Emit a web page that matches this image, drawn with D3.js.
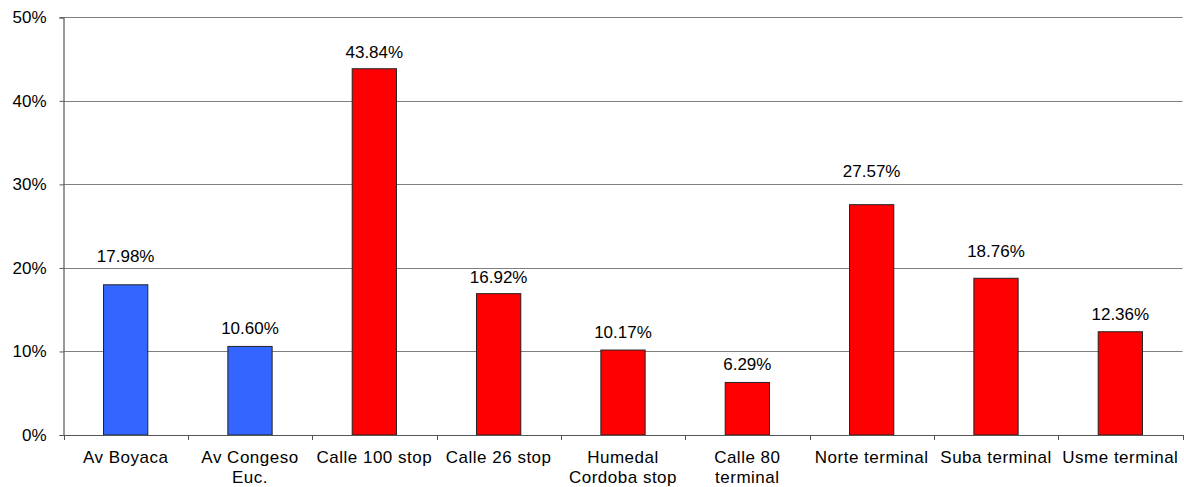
<!DOCTYPE html>
<html>
<head>
<meta charset="utf-8">
<script src="https://cdn.jsdelivr.net/npm/d3@7"></script>
<style>
  html, body { margin: 0; padding: 0; background: #fff; }
  svg { display: block; }
  text { font-family: "Liberation Sans", Arial, sans-serif; fill: #000; }
</style>
</head>
<body>
<svg id="chart" width="1184" height="487"></svg>
<script>
// Share of passengers per station
const categories = ["Av Boyaca", "Av Congeso Euc.", "Calle 100 stop", "Calle 26 stop",
  "Humedal Cordoba stop", "Calle 80 terminal", "Norte terminal", "Suba terminal", "Usme terminal"];
const categoryLines = [["Av Boyaca"], ["Av Congeso", "Euc."], ["Calle 100 stop"], ["Calle 26 stop"],
  ["Humedal", "Cordoba stop"], ["Calle 80", "terminal"], ["Norte terminal"], ["Suba terminal"], ["Usme terminal"]];
const values = [17.98, 10.60, 43.84, 16.92, 10.17, 6.29, 27.57, 18.76, 12.36];
const groups = ["blue", "blue", "red", "red", "red", "red", "red", "red", "red"];
const yTicks = [0, 10, 20, 30, 40, 50];

// gap (px) between each bar top and the baseline of its value label
const labelGap = [22.5, 12.3, 10.5, 11, 11.7, 12, 27.7, 21.7, 12];

const colors = { blue: "#3366FF", red: "#FF0000" };

const svg = d3.select("#chart");
const W = 1184;
const x0 = 63.5, x1 = W - 1.5;
const y0 = 435, yTop = 17.3;

const x = d3.scaleBand().domain(categories).range([x0, x1]).padding(0);
const y = d3.scaleLinear().domain([0, 50]).range([y0, yTop]);

// horizontal gridlines
svg.append("g")
  .selectAll("line")
  .data(yTicks.filter(t => t > 0))
  .join("line")
  .attr("x1", x0).attr("x2", x1)
  .attr("y1", d => Math.round(y(d)) + 0.5).attr("y2", d => Math.round(y(d)) + 0.5)
  .attr("stroke", "#7f7f7f").attr("stroke-width", 1.2);

// y axis
const yAxis = d3.axisLeft(y).tickValues(yTicks).tickFormat(d => d + "%").tickSize(4).tickPadding(13);
const gy = svg.append("g").attr("transform", `translate(${x0},0)`).call(yAxis);
gy.select(".domain").attr("stroke", "#555").attr("stroke-width", 1.2);
gy.selectAll(".tick line").attr("stroke", "#555");
gy.selectAll(".tick text").style("font-size", "17px").attr("fill", "#000");

// bars
const barW = x.bandwidth() * 0.356;
svg.append("g")
  .selectAll("rect")
  .data(values)
  .join("rect")
  .attr("x", (d, i) => x(categories[i]) + (x.bandwidth() - barW) / 2)
  .attr("y", d => y(d))
  .attr("width", barW)
  .attr("height", d => y0 - y(d))
  .attr("fill", (d, i) => colors[groups[i]])
  .attr("stroke", "#222")
  .attr("stroke-width", 1);

// value labels
svg.append("g")
  .selectAll("text")
  .data(values)
  .join("text")
  .attr("x", (d, i) => x(categories[i]) + x.bandwidth() / 2)
  .attr("y", (d, i) => y(d) - labelGap[i])
  .attr("text-anchor", "middle")
  .style("font-size", "17px")
  .text(d => d.toFixed(2) + "%");

// x axis line
const xAxis = d3.axisBottom(x).tickSize(0).tickFormat("");
const gx = svg.append("g").attr("transform", `translate(0,${y0})`).call(xAxis);
gx.select(".domain").attr("stroke", "#555").attr("stroke-width", 1.2);
gx.selectAll(".tick").remove();

// category boundary ticks
svg.append("g")
  .selectAll("line")
  .data(d3.range(categories.length + 1))
  .join("line")
  .attr("x1", i => Math.round(x0 + i * x.bandwidth()) + 0.5)
  .attr("x2", i => Math.round(x0 + i * x.bandwidth()) + 0.5)
  .attr("y1", y0).attr("y2", y0 + 5)
  .attr("stroke", "#555");

// category labels
const lbl = svg.append("g")
  .selectAll("text")
  .data(categories)
  .join("text")
  .attr("x", d => x(d) + x.bandwidth() / 2)
  .attr("y", 463)
  .attr("text-anchor", "middle")
  .style("font-size", "17px")
  .style("letter-spacing", "0.5px");
lbl.each(function(d, i) {
  const t = d3.select(this);
  categoryLines[i].forEach((line, k) => {
    t.append("tspan")
      .attr("x", x(d) + x.bandwidth() / 2)
      .attr("dy", k === 0 ? 0 : 20)
      .text(line);
  });
});
</script>
</body>
</html>
